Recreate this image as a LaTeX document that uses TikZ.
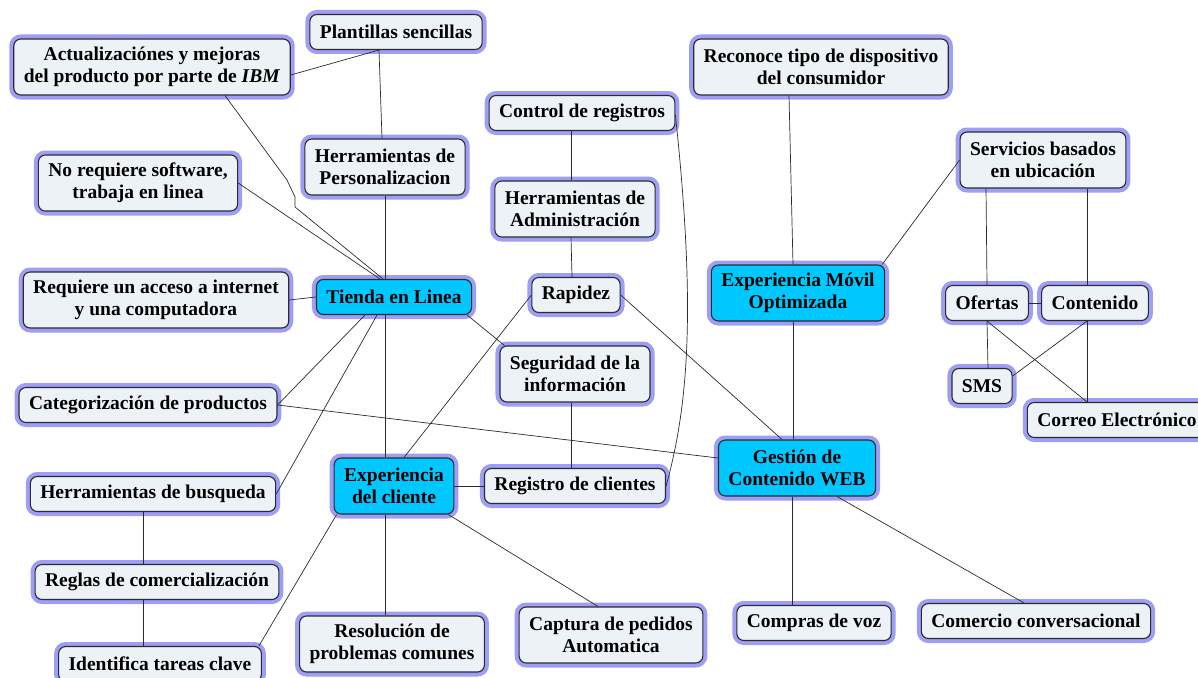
\documentclass[tikz,border=0pt]{standalone}
\usepackage{fontspec}
\setmainfont{Liberation Serif}
\usepackage{tikz}
\definecolor{boxfill}{HTML}{ECF2F5}
\definecolor{boxglow}{HTML}{9E9EF7}
\definecolor{mainfill}{HTML}{00C8FF}
\definecolor{edgecol}{HTML}{2B2B2B}

\begin{document}
\begin{tikzpicture}[x=1pt,y=-1pt,
        idea/.style={draw=edgecol, line width=1.1pt, fill=boxfill, rounded corners=7pt, align=center,
            font=\bfseries\fontsize{19.5}{22}\selectfont, inner xsep=10pt, inner ysep=3pt,
            minimum height=35pt, preaction={draw=boxglow, line width=9pt}},
        main/.style={idea, fill=mainfill},
        two/.style={minimum height=56pt},
        link/.style={draw=edgecol, line width=0.7pt}]
    \useasboundingbox (0,0) rectangle (1198,677);
    \node[idea] (plantillas) at (396,32) {Plantillas sencillas};
    \node[idea,two] (actualiz) at (152,67) {Actualizaciónes y mejoras\\del producto por parte de \textit{IBM}};
    \node[idea,two] (herrPers) at (385,167) {Herramientas de\\Personalizacion};
    \node[idea,two] (noreq) at (138,183) {No requiere software,\\trabaja en linea};
    \node[idea,two] (requiere) at (156,300) {Requiere un acceso a internet\\y una computadora};
    \node[main] (tienda) at (394,297) {Tienda en Linea};
    \node[idea] (categ) at (148,405) {Categorización de productos};
    \node[idea] (herrBusq) at (153,494) {Herramientas de busqueda};
    \node[idea] (reglas) at (157,582) {Reglas de comercialización};
    \node[idea] (identifica) at (160,664) {Identifica tareas clave};
    \node[main,two] (expCliente) at (394,486) {Experiencia\\del cliente};
    \node[idea,two] (resolucion) at (392,644) {Resolución de\\problemas comunes};
    \node[idea,two] (captura) at (611,635) {Captura de pedidos\\Automatica};
    \node[idea] (compras) at (814,623) {Compras de voz};
    \node[idea] (comercio) at (1036,621) {Comercio conversacional};
    \node[main,two] (gestion) at (797,468) {Gestión de\\Contenido WEB};
    \node[idea] (registro) at (575,486) {Registro de clientes};
    \node[idea,two] (seguridad) at (575,374) {Seguridad de la\\información};
    \node[idea] (rapidez) at (576,295) {Rapidez};
    \node[idea,two] (herrAdmin) at (575,209) {Herramientas de\\Administración};
    \node[idea] (control) at (582,113) {Control de registros};
    \node[idea,two] (reconoce) at (821,67) {Reconoce tipo de dispositivo\\del consumidor};
    \node[main,two] (expMovil) at (798,293) {Experiencia Móvil\\Optimizada};
    \node[idea,two] (servicios) at (1043,160) {Servicios basados\\en ubicación};
    \node[idea] (ofertas) at (987,303) {Ofertas};
    \node[idea] (contenido) at (1095,303) {Contenido};
    \node[idea] (sms) at (982,386) {SMS};
    \node[idea] (correo) at (1117,420) {Correo Electrónico};

    \draw[link] ([yshift=-8pt]actualiz.east) -- ([xshift=-17pt]plantillas.south);
    \draw[link] ([xshift=-17pt]plantillas.south) -- ([xshift=-3pt]herrPers.north);
    \draw[link] ([xshift=73pt]actualiz.south) -- (287,180) -- (295,197) -- (295,207) -- ([xshift=-11pt]tienda.north);
    \draw[link] (noreq.east) -- ([xshift=-14pt]tienda.north);
    \draw[link] (herrPers.south) -- (herrPers.south |- tienda.north);
    \draw[link] (requiere.east) -- (tienda.west);
    \draw[link] ([xshift=-29pt]tienda.south) -- (categ.east);
    \draw[link] ([xshift=-17pt]tienda.south) -- (herrBusq.east);
    \draw[link] ([xshift=-9pt]tienda.south) -- ([xshift=-9pt]expCliente.north);
    \draw[link] ([xshift=-5pt]tienda.south east) -- ([xshift=5pt]seguridad.north west);
    \draw[link] (rapidez.west) -- ([xshift=10pt]expCliente.north);
    \draw[link] (rapidez.east) -- ([xshift=-15pt]gestion.north);
    \draw[link] ([xshift=-11pt]control.south) -- ([xshift=-4pt]herrAdmin.north);
    \draw[link] ([xshift=-4pt]herrAdmin.south) -- ([xshift=-4pt]rapidez.north);
    \draw[link] ([yshift=-2pt]control.east) .. controls (695,300) and (690,400) .. (registro.east);
    \draw[link] ([xshift=-4pt]seguridad.south) -- ([xshift=-4pt]registro.north);
    \draw[link] (expCliente.east) -- (registro.west);
    \draw[link] ([xshift=-9pt]expCliente.south) -- ([xshift=-7pt]resolucion.north);
    \draw[link] ([xshift=-6pt]expCliente.south east) -- ([xshift=-13pt]captura.north);
    \draw[link] ([xshift=3pt]expCliente.south west) -- ([xshift=-3pt]identifica.north east);
    \draw[link] ([xshift=-10pt]herrBusq.south) -- ([xshift=-14pt]reglas.north);
    \draw[link] ([xshift=-14pt]reglas.south) -- ([xshift=-17pt]identifica.north);
    \draw[link] (categ.east) -- ([yshift=10pt]gestion.west);
    \draw[link] ([xshift=-5pt]gestion.south) -- ([xshift=-22pt]compras.north);
    \draw[link] ([xshift=-39pt]gestion.south east) -- ([xshift=-12pt]comercio.north);
    \draw[link] ([xshift=-32pt]reconoce.south) -- ([xshift=-5pt]expMovil.north);
    \draw[link] ([xshift=-5pt]expMovil.south) -- ([xshift=-4pt]gestion.north);
    \draw[link] ([xshift=-3pt]expMovil.north east) -- (servicios.west);
    \draw[link] ([xshift=-57pt]servicios.south) -- (ofertas.north);
    \draw[link] ([xshift=44pt]servicios.south) -- ([xshift=-8pt]contenido.north);
    \draw[link] (ofertas.east) -- (contenido.west);
    \draw[link] (ofertas.south) -- ([xshift=6pt]sms.north);
    \draw[link] (ofertas.south) -- ([xshift=-30pt]correo.north);
    \draw[link] ([xshift=-8pt]contenido.south) -- ([yshift=10pt]sms.east);
    \draw[link] ([xshift=-8pt]contenido.south) -- ([xshift=-30pt]correo.north);
\end{tikzpicture}
\end{document}
